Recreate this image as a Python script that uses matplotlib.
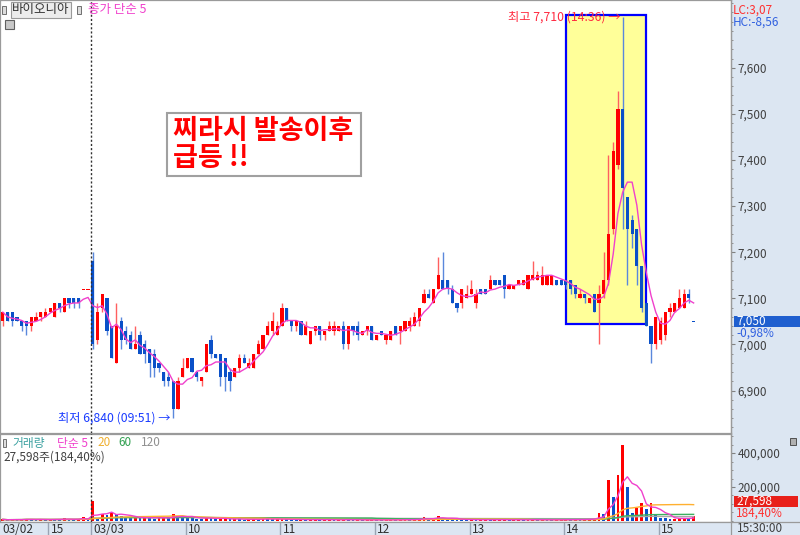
import numpy as np
import pandas as pd
import matplotlib
matplotlib.use('Agg')
import matplotlib.pyplot as plt
from matplotlib.patches import Rectangle
from matplotlib.ticker import FuncFormatter, MultipleLocator, FixedLocator, NullLocator

plt.rcParams['font.family'] = ['Noto Sans CJK KR', 'DejaVu Sans']

# ---------------- data (3-minute bars, 03/02 tail + 03/03) ----------------
stock_name = '바이오니아'
prev_day_bars = 19

opens = [7050, 7070, 7070, 7060, 7050, 7050, 7040, 7050, 7060, 7060, 7070, 7060, 7090, 7070, 7100, 7100, 7100, 7120, 7120,
         7180, 7010, 7080, 7100, 7040, 6960, 7050, 7030, 7020, 6990,
         7020, 7000, 6990, 6980, 6960, 6940, 6930, 6920, 6860, 6930,
         6950, 6970, 6940, 6920, 6940, 7010, 6980, 6980, 6970, 6940,
         6930, 6950, 6970, 6950, 6950, 6980, 6990, 7020, 7030, 7020,
         7040, 7080, 7050, 7040, 7050, 7020, 7000, 7030, 7040, 7020,
         7030, 7030, 7030, 7040, 7000, 7040, 7040, 7020, 7030, 7040,
         7010, 7030, 7010, 7010, 7040, 7030, 7030, 7040, 7040, 7050,
         7090, 7110, 7090, 7120, 7140, 7140, 7120, 7090, 7090, 7100,
         7110, 7090, 7120, 7120, 7120, 7140, 7140, 7150, 7120, 7120,
         7130, 7130, 7120, 7140, 7140, 7130, 7130, 7130, 7140, 7140,
         7140, 7140, 7130, 7100, 7110, 7090, 7110, 7090, 7110, 7140,
         7250, 7390, 7510, 7320, 7270, 7250, 7170, 7090, 7040, 7000,
         7010, 7020, 7070, 7070, 7080, 7080, 7110, 7050]
highs = [7070, 7070, 7070, 7060, 7050, 7050, 7060, 7070, 7070, 7080, 7080, 7090, 7090, 7100, 7100, 7100, 7100, 7120, 7120,
         7200, 7090, 7110, 7100, 7040, 7090, 7060, 7040, 7030, 7040,
         7030, 7010, 6990, 6990, 6960, 6940, 6940, 6920, 6930, 6970,
         6970, 6970, 6940, 6930, 7000, 7020, 6980, 6980, 6970, 6950,
         6950, 6980, 6980, 6970, 6980, 7010, 7020, 7050, 7070, 7050,
         7090, 7080, 7050, 7050, 7050, 7050, 7030, 7040, 7040, 7030,
         7050, 7050, 7040, 7050, 7040, 7040, 7050, 7030, 7040, 7040,
         7020, 7030, 7020, 7030, 7040, 7040, 7050, 7060, 7070, 7080,
         7120, 7120, 7120, 7190, 7200, 7140, 7130, 7090, 7120, 7130,
         7140, 7120, 7120, 7120, 7150, 7140, 7140, 7150, 7130, 7130,
         7140, 7140, 7150, 7180, 7160, 7170, 7150, 7150, 7140, 7140,
         7140, 7140, 7130, 7120, 7110, 7100, 7110, 7130, 7200, 7410,
         7440, 7550, 7710, 7320, 7280, 7250, 7170, 7090, 7040, 7060,
         7060, 7070, 7090, 7090, 7120, 7120, 7120, 7050]
lows = [7040, 7050, 7040, 7050, 7030, 7020, 7030, 7050, 7050, 7060, 7070, 7060, 7070, 7070, 7080, 7080, 7080, 7120, 7120,
        6990, 7000, 7070, 7020, 6970, 6960, 6990, 7000, 6990, 6990,
        6980, 6960, 6930, 6930, 6940, 6910, 6910, 6840, 6860, 6930,
        6950, 6940, 6920, 6910, 6940, 6970, 6970, 6910, 6900, 6900,
        6930, 6940, 6960, 6950, 6950, 6980, 6990, 7020, 7020, 7020,
        7040, 7050, 7030, 7030, 7020, 7020, 7000, 7020, 7010, 7010,
        7030, 7020, 7030, 6990, 6990, 7020, 7010, 7020, 7020, 7010,
        7010, 7020, 7000, 7010, 7020, 7000, 7030, 7030, 7040, 7040,
        7090, 7100, 7090, 7120, 7120, 7110, 7090, 7070, 7080, 7100,
        7110, 7080, 7110, 7110, 7120, 7130, 7130, 7100, 7120, 7120,
        7130, 7130, 7120, 7140, 7140, 7130, 7130, 7130, 7130, 7130,
        7120, 7110, 7100, 7100, 7090, 7090, 7070, 7000, 7100, 7130,
        7240, 7380, 7250, 7130, 7210, 7130, 7070, 7040, 6960, 6990,
        7000, 7010, 7060, 7070, 7080, 7080, 7090, 7050]
closes = [7070, 7050, 7050, 7050, 7040, 7040, 7060, 7060, 7070, 7070, 7080, 7090, 7080, 7100, 7090, 7090, 7090, 7120, 7120,
          7000, 7070, 7110, 7030, 6970, 7040, 7010, 7010, 6990, 7000,
          6980, 6980, 6960, 6950, 6950, 6920, 6920, 6860, 6920, 6950,
          6970, 6940, 6930, 6930, 7000, 6980, 6970, 6930, 6930, 6920,
          6950, 6970, 6960, 6960, 6980, 7000, 7020, 7040, 7050, 7040,
          7080, 7050, 7040, 7050, 7020, 7040, 7030, 7040, 7020, 7030,
          7040, 7040, 7040, 7000, 7040, 7030, 7020, 7030, 7040, 7010,
          7020, 7020, 7020, 7030, 7020, 7040, 7050, 7050, 7060, 7080,
          7110, 7100, 7120, 7150, 7120, 7120, 7090, 7080, 7120, 7110,
          7120, 7110, 7110, 7110, 7140, 7130, 7130, 7120, 7130, 7130,
          7140, 7140, 7150, 7150, 7150, 7150, 7150, 7150, 7130, 7130,
          7130, 7120, 7110, 7110, 7100, 7100, 7070, 7110, 7140, 7240,
          7420, 7510, 7340, 7250, 7240, 7170, 7080, 7040, 7000, 7060,
          7050, 7070, 7080, 7090, 7100, 7110, 7100, 7050]
volumes = [9000, 6000, 8000, 7000, 10000, 14000, 8000, 6000, 9000, 7000, 12000, 10000, 8000, 16000, 9000, 7000, 12000, 25000, 4000,
           116000, 18000, 40000, 36000, 50000, 44000, 30000, 22000, 18000, 20000,
           16000, 24000, 20000, 14000, 18000, 22000, 16000, 40000, 30000, 24000,
           20000, 18000, 14000, 12000, 25000, 18000, 10000, 12000, 14000, 10000,
           12000, 10000, 8000, 9000, 12000, 10000, 14000, 12000, 9000, 10000,
           12000, 10000, 8000, 7000, 9000, 6000, 8000, 10000, 6000, 7000,
           8000, 6000, 7000, 9000, 8000, 6000, 7000, 5000, 6000, 7000,
           6000, 5000, 7000, 8000, 6000, 7000, 9000, 8000, 10000, 12000,
           22000, 10000, 14000, 32000, 15000, 12000, 10000, 9000, 8000, 7000,
           8000, 6000, 7000, 9000, 6000, 7000, 8000, 9000, 6000, 7000,
           8000, 6000, 7000, 10000, 6000, 8000, 7000, 6000, 7000, 8000,
           8000, 7000, 9000, 8000, 10000, 12000, 14000, 45000, 40000, 240000,
           143000, 270000, 447000, 200000, 49000, 78000, 108000, 69000, 108000, 35000,
           18000, 16000, 13000, 14000, 15000, 16000, 14966, 27598]

x_tick_bars = [-9, 0, 20, 40, 60, 80, 100, 120]
x_tick_labels = ['15', '03/03', '10', '11', '12', '13', '14', '15']

# ---------------- derived ----------------
n = len(closes)
pos = np.arange(n) - prev_day_bars
o = np.array(opens, float); h = np.array(highs, float)
l = np.array(lows, float); c = np.array(closes, float)
v = np.array(volumes, float)
ma5 = pd.Series(c).rolling(5, min_periods=1).mean()
vser = pd.Series(v)
vmas = {p: vser.rolling(p, min_periods=1).mean() for p in (5, 20, 60, 120)}

RED = '#ff0000'
BLUE = '#0a50c8'
RED_W = '#ff6060'
BLUE_W = '#5a88dc'
MAGENTA = '#f040cc'

up = []
for i in range(n):
    if c[i] > o[i]:
        up.append(True)
    elif c[i] < o[i]:
        up.append(False)
    else:
        up.append(c[i] >= (c[i - 1] if i > 0 else c[i]))
up = np.array(up)

W, H = 800, 535
fig = plt.figure(figsize=(8, 5.35), dpi=100, facecolor='#dce6f2')


def fx(px):
    return px / W


def fy(py):
    return 1 - py / H


ax = fig.add_axes([0, fy(433), fx(731), fy(0) - fy(433)])
axv = fig.add_axes([0, fy(522), fx(731), fy(434) - fy(522)], sharex=ax)

for a in (ax, axv):
    a.set_facecolor('white')
    for s in a.spines.values():
        s.set_color('#9a9a9a')
        s.set_linewidth(0.9)
    a.yaxis.tick_right()
    a.tick_params(axis='y', which='major', direction='out', length=3, width=0.8,
                  color='#808080', labelsize=8.5, labelcolor='#404040', pad=1.5)
    a.tick_params(axis='y', which='minor', direction='out', length=1.6, width=0.7, color='#909090')
    a.xaxis.set_major_locator(NullLocator())
    a.tick_params(axis='x', which='both', bottom=False, labelbottom=False)

ax.set_xlim(-19.6, 134.9)
ax.set_ylim(6808, 7747)
ax.yaxis.set_major_locator(FixedLocator([6900, 7000, 7100, 7200, 7300, 7400, 7500, 7600]))
ax.yaxis.set_minor_locator(MultipleLocator(20))
ax.yaxis.set_major_formatter(FuncFormatter(lambda y, p: f'{y:,.0f}'))

# highlight box
ax.add_patch(Rectangle((99.95, 7045), 16.9, 669, facecolor='#ffff99', edgecolor='#0000ff',
                       linewidth=1.6, zorder=0.5))

# candles
wick_cols = [RED_W if u else BLUE_W for u in up]
body_cols = [RED if u else BLUE for u in up]
ax.vlines(pos, l, h, colors=wick_cols, linewidth=1.0, zorder=2)
body_bottom = np.minimum(o, c)
body_h = np.abs(c - o)
is_doji = body_h == 0
body_bottom = np.where(is_doji, o - 1.2, body_bottom)
body_h = np.where(is_doji, 2.4, body_h)
ax.bar(pos, body_h, bottom=body_bottom, width=0.68, color=body_cols, linewidth=0, zorder=3)

ax.plot(pos, ma5, color=MAGENTA, linewidth=1.0, zorder=4)

# day separator
for a in (ax, axv):
    a.axvline(-0.35, color='#303030', linewidth=1.0, linestyle=(0, (1.5, 1.5)), zorder=5)

# annotations
ax.text(112 - 0.5, 7710, '최고 7,710 (14:36) →', ha='right', va='center', color='#ff2a40', fontsize=8.8, zorder=6)
ax.text(17 - 0.5, 6840, '최저 6,840 (09:51) →', ha='right', va='center', color='#1a3cff', fontsize=8.8, zorder=6)

# volume panel
vcols = [RED if (i == 0 or v[i] >= v[i - 1]) else BLUE for i in range(n)]
axv.bar(pos, v, width=0.6, color=vcols, linewidth=0, zorder=2)
vma_colors = {5: MAGENTA, 20: '#ffb030', 60: '#3cb060', 120: '#a8a8a8'}
for p_ in (120, 60, 20, 5):
    axv.plot(pos, vmas[p_], color=vma_colors[p_], linewidth=1.0, zorder=3)
axv.set_ylim(-6000, 512000)
axv.yaxis.set_major_locator(FixedLocator([200000, 400000]))
axv.yaxis.set_minor_locator(MultipleLocator(50000))
axv.yaxis.set_major_formatter(FuncFormatter(lambda y, p: f'{y:,.0f}'))

# time strip
axs = fig.add_axes([0, 0, fx(731), fy(522)], sharex=ax)
axs.set_facecolor('#dce6f2')
axs.set_ylim(0, 1)
for s in axs.spines.values():
    s.set_visible(False)
axs.tick_params(axis='both', which='both', left=False, right=False, bottom=False,
                labelleft=False, labelright=False, labelbottom=False)
for xb, lab in zip(x_tick_bars, x_tick_labels):
    axs.axvline(xb - 0.35, color='#9aa4b4', linewidth=1.0)
    axs.text(xb + 0.1, 0.45, lab, ha='left', va='center', fontsize=8.5, color='#303030')
axs.text(-19.2, 0.45, '03/02', ha='left', va='center', fontsize=8.5, color='#303030')
fig.add_artist(plt.Line2D([0, 1], [fy(522), fy(522)], color='#9a9a9a', linewidth=0.9))
fig.add_artist(plt.Line2D([fx(731), fx(731)], [0, 1], color='#9a9a9a', linewidth=0.9))
fig.text(fx(737), fy(528.5), '15:30:00', ha='left', va='center', fontsize=8.5, color='#404040')

# top-left labels
fig.add_artist(Rectangle((fx(2), fy(14)), fx(4), fy(6) - fy(14), transform=fig.transFigure,
                         facecolor='#dddddd', edgecolor='#707070', linewidth=0.7))
fig.text(fx(12), fy(10), stock_name, ha='left', va='center', fontsize=9, color='#303030',
         bbox=dict(boxstyle='square,pad=0.12', facecolor='#ececec', edgecolor='#9a9a9a', linewidth=0.8))
fig.add_artist(Rectangle((fx(77), fy(14)), fx(4), fy(6) - fy(14), transform=fig.transFigure,
                         facecolor='#dddddd', edgecolor='#707070', linewidth=0.7))
fig.add_artist(Rectangle((fx(5), fy(29)), fx(9), fy(20) - fy(29), transform=fig.transFigure,
                         facecolor='#c8c8c8', edgecolor='#606060', linewidth=0.8))
fig.text(fx(88), fy(10), '종가 단순 5', ha='left', va='center', fontsize=9, color=MAGENTA)

# right panel labels
fig.text(fx(733), fy(10), 'LC:3,07', ha='left', va='center', fontsize=8.5, color='#ff3030')
fig.text(fx(733), fy(22), 'HC:-8,56', ha='left', va='center', fontsize=8.5, color='#3060e0')
fig.add_artist(Rectangle((fx(734), fy(327)), fx(66), fy(316) - fy(327), transform=fig.transFigure,
                         facecolor='#1f5fcf', edgecolor='none'))
fig.text(fx(736), fy(321.5), '7,050', ha='left', va='center', fontsize=8.5, color='white')
fig.text(fx(736), fy(333), '-0,98%', ha='left', va='center', fontsize=8.5, color='#3060e0')
fig.add_artist(Rectangle((fx(734), fy(507)), fx(64), fy(495.5) - fy(507), transform=fig.transFigure,
                         facecolor='#e8201a', edgecolor='none'))
fig.text(fx(736), fy(501.5), '27,598', ha='left', va='center', fontsize=8.5, color='white')
fig.text(fx(736), fy(513.5), '184,40%', ha='left', va='center', fontsize=8.5, color='#ff3030')
fig.add_artist(Rectangle((fx(790), fy(445)), fx(6), fy(438) - fy(445), transform=fig.transFigure,
                         facecolor='#b0b0b0', edgecolor='#505050', linewidth=0.7))

# volume legend
fig.add_artist(Rectangle((fx(3), fy(447)), fx(3), fy(439) - fy(447), transform=fig.transFigure,
                         facecolor='#dddddd', edgecolor='#707070', linewidth=0.7))
fig.text(fx(12), fy(443), '거래량', ha='left', va='center', fontsize=8.5, color='#3aa0a0')
fig.text(fx(57), fy(443), '단순 5', ha='left', va='center', fontsize=8.5, color=MAGENTA)
fig.text(fx(97), fy(443), '20', ha='left', va='center', fontsize=8.5, color='#f0b030')
fig.text(fx(118), fy(443), '60', ha='left', va='center', fontsize=8.5, color='#30a050')
fig.text(fx(141), fy(443), '120', ha='left', va='center', fontsize=8.5, color='#909090')
fig.text(fx(3), fy(457), '27,598주(184,40%)', ha='left', va='center', fontsize=8.5, color='#404040')

# callout box
fig.add_artist(Rectangle((fx(167), fy(176)), fx(194), fy(113) - fy(176), transform=fig.transFigure,
                         facecolor='white', edgecolor='#a0a0a0', linewidth=1.5))
fig.text(fx(173), fy(131), '찌라시 발송이후', ha='left', va='center', fontsize=19.5,
         fontweight='bold', color='#ff0000')
fig.text(fx(173), fy(158), '급등 !!', ha='left', va='center', fontsize=19.5,
         fontweight='bold', color='#ff0000')

fig.savefig('out.png', dpi=100, facecolor=fig.get_facecolor())
